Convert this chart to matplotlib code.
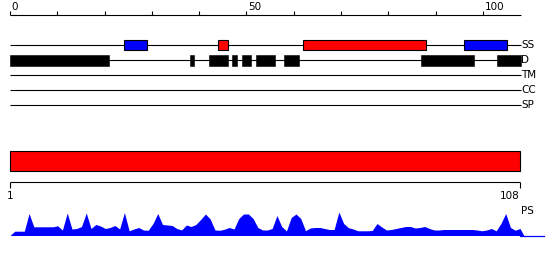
import matplotlib
matplotlib.use("Agg")
import matplotlib.pyplot as plt
from matplotlib.patches import Rectangle

# ---------------- data ----------------
seq_len = 108
top_ticks = list(range(0, 101, 10))
top_tick_labels = {0: "0", 50: "50", 100: "100"}

track_names = ["SS", "D", "TM", "CC", "SP"]

ss_starts = [24, 44, 62, 96]
ss_ends = [29, 46, 88, 105]
ss_colors = ["#0000ff", "#ff0000", "#ff0000", "#0000ff"]

d_starts = [0, 38, 42, 47, 49, 52, 58, 87, 103]
d_ends = [21, 39, 46, 48, 51, 56, 61, 98, 108]

domain_start = 1
domain_end = 108
ruler_labels = ["1", "108"]

ps_values = [
    0, 4.3, 4.3, 4.3, 22, 8.7, 8.7, 8.7, 8.7, 8.7,
    9.7, 5.5, 22.5, 6.5, 7, 9, 22.5, 7, 11, 9.5,
    7, 8, 10, 6.5, 23, 4.7, 6.5, 8, 5.5, 5.2,
    12, 22, 11, 10.5, 10, 7, 5.5, 10.5, 9, 11,
    16, 21.5, 16.5, 5.5, 5.2, 6.3, 8, 6.5, 17, 21.5,
    21.5, 17, 8, 5.5, 5.5, 7, 20, 9, 4.5, 18,
    21.5, 17, 4.8, 7.5, 8, 8, 7, 6, 6, 23.5,
    12, 7.8, 6.5, 4.7, 4.7, 4.7, 5, 12, 8.5, 5.5,
    6, 7, 8, 9, 9, 7.5, 8, 9, 7, 5.5,
    5.5, 6, 6, 6, 6, 6, 6, 6, 5.5, 4.7,
    5.5, 7, 4.7, 12, 22, 8, 5.3, 7,
]
ps_positions = list(range(1, len(ps_values) + 1))

# ---------------- layout (pixel rows) ----------------
W, H = 550, 260
x0_px, x1_px = 10.0, 520.8
top_scale = (x1_px - x0_px) / seq_len
bot_scale = (520.0 - 10.0) / (domain_end - domain_start)

axis_y = 15.0
tick_top = 10.5
track_y = [45, 60, 75, 90, 105]
ss_h = 10.0
d_h = 11.0
bar_top, bar_bot = 151.0, 171.0
ruler_y = 182.4
ruler_tick = 188.0
ps_base = 235.5
lw = 0.8
fs = 7.5

plt.rcParams['font.family'] = ['DejaVu Sans']

fig = plt.figure(figsize=(W / 100, H / 100), dpi=100)
ax = fig.add_axes([0, 0, 1, 1])
ax.set_xlim(-x0_px / top_scale, (W - x0_px) / top_scale)
ax.set_ylim(H, 0)
ax.axis("off")

# top scale axis
ax.plot([0, seq_len], [axis_y, axis_y], color="black", lw=lw, solid_capstyle="butt")
for t in top_ticks:
    ax.plot([t, t], [tick_top, axis_y], color="black", lw=lw, solid_capstyle="butt")
    if t in top_tick_labels:
        ax.text(t + 0.3, 9.6, top_tick_labels[t], ha="left", va="baseline",
                fontsize=fs, color="black")

# tracks
for name, y in zip(track_names, track_y):
    ax.plot([0, seq_len], [y, y], color="black", lw=lw, solid_capstyle="butt", zorder=1)
    ax.text(seq_len + 0.1, y, name, ha="left", va="center", fontsize=fs, color="black")

for s, e, c in zip(ss_starts, ss_ends, ss_colors):
    ax.add_patch(Rectangle((s, track_y[0] - ss_h / 2), e - s, ss_h,
                           facecolor=c, edgecolor="black", lw=lw, zorder=2))
for s, e in zip(d_starts, d_ends):
    ax.add_patch(Rectangle((s, track_y[1] - d_h / 2), e - s, d_h,
                           facecolor="black", edgecolor="black", lw=0.4, zorder=2))

# bottom section axes
ax2 = fig.add_axes([0, 0, 1, 1])
ax2.patch.set_alpha(0)
ax2.set_xlim(domain_start - 10.0 / bot_scale, domain_start + (W - 10.0) / bot_scale)
ax2.set_ylim(H, 0)
ax2.axis("off")

ax2.add_patch(Rectangle((domain_start, bar_top), domain_end - domain_start, bar_bot - bar_top,
                        facecolor="#ff0000", edgecolor="black", lw=lw))

ax2.plot([domain_start, domain_end], [ruler_y, ruler_y], color="black", lw=lw,
         solid_capstyle="butt")
for t in (domain_start, domain_end):
    ax2.plot([t, t], [ruler_y, ruler_tick], color="black", lw=lw, solid_capstyle="butt")
ax2.text(domain_start, 199, ruler_labels[0], ha="center", va="baseline", fontsize=fs)
ax2.text(domain_end, 199, ruler_labels[1], ha="right", va="baseline", fontsize=fs)

# PS profile
ps_y = [ps_base - v for v in ps_values]
ax2.fill_between(ps_positions + [domain_end + 0.8], ps_y + [ps_base], ps_base,
                 color="#0000ff", lw=0)
ax2.plot([domain_end, domain_end + 5], [ps_base, ps_base], color="#0000ff", lw=0.9)
ax2.text(domain_end + 0.3, 211, "PS", ha="left", va="center", fontsize=fs)

fig.savefig("out.png", dpi=100)
